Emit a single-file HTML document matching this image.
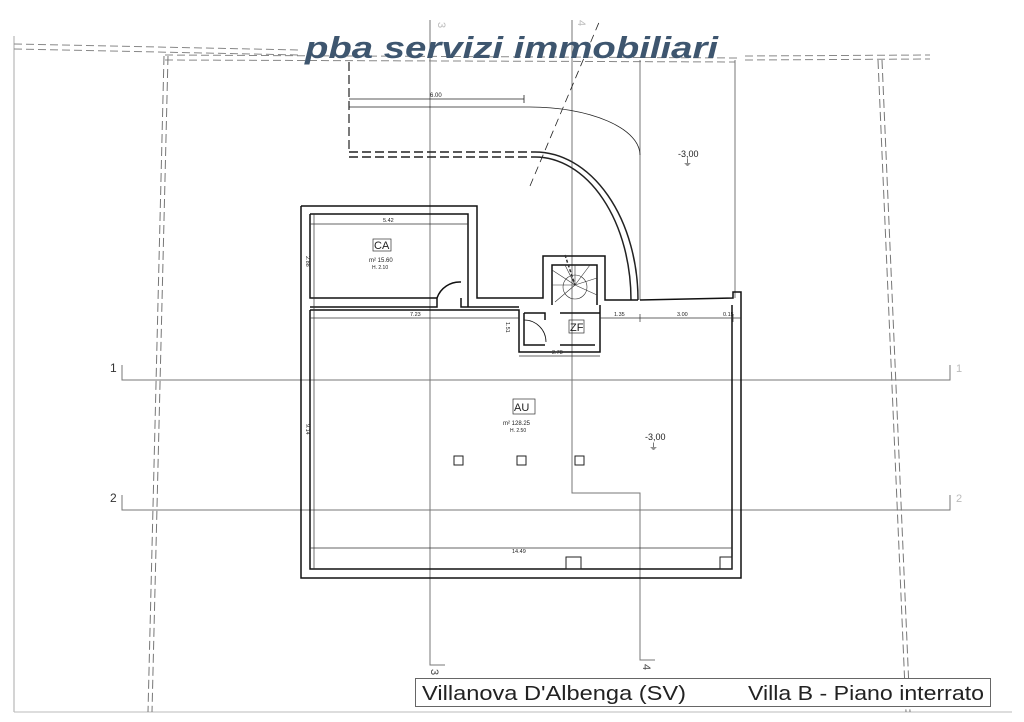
<!DOCTYPE html>
<html><head><meta charset="utf-8"><style>
html,body{margin:0;padding:0;background:#fff;}
svg{display:block}
</style></head><body>
<svg width="1024" height="722" viewBox="0 0 1024 722" xmlns="http://www.w3.org/2000/svg" font-family="Liberation Sans, sans-serif">
<rect width="1024" height="722" fill="#fff"/>
<line x1="14" y1="36" x2="14" y2="712" stroke="#aaa" stroke-width="1"/>
<line x1="14" y1="712" x2="1012" y2="712" stroke="#bbb" stroke-width="1"/>
<g stroke="#888" stroke-width="1" stroke-dasharray="8,4" fill="none">
<path d="M14 44 L300 50 M14 49 L300 55"/>
<path d="M165 55 L740 58 M165 60 L735 62"/>
<path d="M745 56 L930 55 M745 60 L930 59"/>
</g>
<g stroke="#777" stroke-width="1" stroke-dasharray="9,4" fill="none">
<path d="M164 56 L148 712"/><path d="M168 56 L152 712"/>
<path d="M878 60 L906 712"/><path d="M882 60 L910 712"/>
</g>
<g stroke="#777" stroke-width="1" fill="none">
<path d="M430 20 L430 665 L445 665"/>
<path d="M572 20 L572 493 L640 493 L640 660 L655 660"/>
<path d="M640 60 L640 300"/>
<path d="M122 365 L122 380 L950 380 L950 365"/>
<path d="M122 495 L122 510 L950 510 L950 495"/>
<path d="M735 60 L735 298"/>
</g>
<text x="110" y="372" font-size="12" fill="#333">1</text>
<text x="110" y="502" font-size="12" fill="#333">2</text>
<text x="956" y="372" font-size="11" fill="#bbb">1</text>
<text x="956" y="502" font-size="11" fill="#bbb">2</text>
<text x="432" y="678" font-size="11" fill="#444" transform="rotate(90 436 673)">3</text>
<text x="644" y="673" font-size="11" fill="#444" transform="rotate(90 648 668)">4</text>
<text x="438" y="30" font-size="11" fill="#bbb" transform="rotate(90 442 26)">3</text>
<text x="578" y="28" font-size="11" fill="#bbb" transform="rotate(90 582 24)">4</text>
<g stroke="#222" fill="none">
<path d="M349 62 L349 152" stroke-dasharray="9,4" stroke-width="1.2"/>
<path d="M349 152 L535 152" stroke-dasharray="9,4" stroke-width="1.5"/>
<path d="M349 157 L535 157" stroke-dasharray="9,4" stroke-width="1.5"/>
<path d="M535 152 A103 148 0 0 1 638 300" stroke-width="1.5"/>
<path d="M535 157 A96 143 0 0 1 631 300" stroke-width="1.5"/>
<path d="M349 107 L530 107 A110 48 0 0 1 640 155" stroke-width="0.8"/>
<path d="M349 99 L524 99 M524 95 L524 103" stroke-width="0.8"/>
<path d="M530 186 L600 20" stroke-dasharray="8,5" stroke-width="0.8"/>
</g>
<text x="430" y="97" font-size="6" fill="#222">6.00</text>
<text x="678" y="157" font-size="9" fill="#222">-3,00</text>
<text x="683" y="166" font-size="9" fill="#222">⏚</text>
<g stroke="#111" stroke-width="1.5" fill="none">
<path d="M301 206 L477 206 L477 298 L543 298 L543 256 L605 256 L605 300 L638 300"/>
<path d="M640 300 L733 298 L733 292 L741 292 L741 578 L301 578 L301 206"/>
<path d="M310 214 L468 214 L468 307 M310 214 L310 298 L437 298 L437 307 L310 307 M461 298 L461 307 L519 307 M552 305 L552 265 L597 265 L597 305"/>
<path d="M310 310 L310 569 L732 569 L732 305 M600 305 L600 352 L519 352 L519 310 L310 310"/>
<path d="M524 313 L545 313 L545 320 M560 313 L600 313 M524 313 L524 345 L545 345 M560 345 L595 345"/>
<path d="M437 298 A24 24 0 0 1 461 282"/>
<path d="M524 320 A22 22 0 0 1 546 342" stroke-width="0.8"/>
</g>
<g stroke="#333" stroke-width="0.6" fill="none">
<path d="M575 285 L552 270 M575 285 L552 285 M575 285 L555 302 M575 285 L575 265 M575 285 L590 265 M575 285 L597 278 M575 285 L597 295 M575 285 L565 265"/>
<circle cx="575" cy="287" r="12"/>
<path d="M565 255 L575 285" stroke-dasharray="3,2" stroke-width="1.5"/>
</g>
<g stroke="#333" stroke-width="0.7" fill="none">
<path d="M310 224 L468 224"/>
<path d="M310 318 L519 318"/>
<path d="M600 318 L741 318 M640 314 L640 322 M733 314 L733 322"/>
<path d="M519 356 L600 356"/>
<path d="M310 548 L732 548"/>
<path d="M314 214 L314 569"/>
</g>
<g font-size="5.5" fill="#222">
<text x="383" y="222">5.42</text>
<text x="410" y="316">7.23</text>
<text x="614" y="316">1.35</text>
<text x="677" y="316">3.00</text>
<text x="723" y="316">0.15</text>
<text x="552" y="354">2.78</text>
<text x="512" y="553">14.49</text>
<text x="306" y="260" transform="rotate(90 308 258)">2.88</text>
<text x="306" y="428" transform="rotate(90 308 426)">9.14</text>
<text x="506" y="326" transform="rotate(90 508 324)">1.51</text>
</g>
<rect x="373" y="239" width="18" height="12" fill="none" stroke="#333" stroke-width="0.7"/>
<text x="374" y="249" font-size="11" fill="#222">CA</text>
<text x="369" y="262" font-size="6" fill="#222">m² 15.60</text>
<text x="372" y="269" font-size="5" fill="#222">H. 2.10</text>
<rect x="569" y="320" width="15" height="13" fill="none" stroke="#333" stroke-width="0.7"/>
<text x="570" y="331" font-size="11" fill="#222">ZF</text>
<rect x="513" y="399" width="22" height="15" fill="none" stroke="#333" stroke-width="0.7"/>
<text x="514" y="411" font-size="11" fill="#222">AU</text>
<text x="503" y="425" font-size="6" fill="#222">m² 128.25</text>
<text x="510" y="432" font-size="5" fill="#222">H. 2.50</text>
<text x="645" y="440" font-size="9" fill="#222">-3,00</text>
<text x="649" y="450" font-size="9" fill="#222">⏚</text>
<g fill="none" stroke="#222" stroke-width="1">
<rect x="454" y="456" width="9" height="9"/><rect x="517" y="456" width="9" height="9"/><rect x="575" y="456" width="9" height="9"/>
<rect x="566" y="557" width="15" height="12"/><rect x="720" y="557" width="12" height="12"/>
</g>
<text x="305" y="58" font-size="31" font-weight="bold" font-style="italic" fill="#3e566f" textLength="413" lengthAdjust="spacingAndGlyphs">pba servizi immobiliari</text>
<rect x="415.5" y="678.5" width="575" height="28" fill="#fff" stroke="#666"/>
<text x="422" y="700" font-size="20" fill="#222" textLength="264" lengthAdjust="spacingAndGlyphs">Villanova D'Albenga (SV)</text>
<text x="748" y="700" font-size="20" fill="#222" textLength="236" lengthAdjust="spacingAndGlyphs">Villa B - Piano interrato</text>
</svg>
</body></html>
